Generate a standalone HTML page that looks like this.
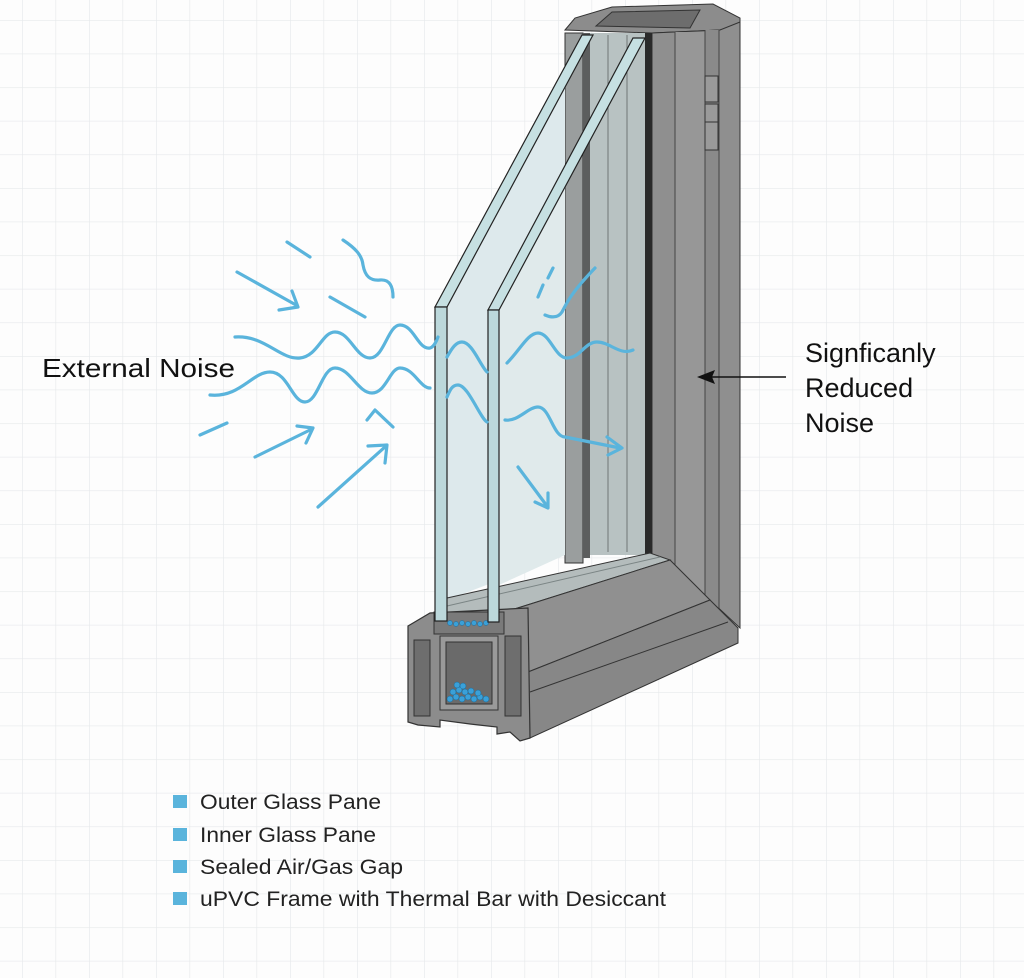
<!DOCTYPE html>
<html><head><meta charset="utf-8"><style>
html,body{margin:0;padding:0;background:#fff}
svg{display:block}
text{font-family:"Liberation Sans",Arial,sans-serif}
</style></head><body>
<svg width="1024" height="978" viewBox="0 0 1024 978" xmlns="http://www.w3.org/2000/svg">
<defs>
<pattern id="g" x="22" y="20" width="33.5" height="33.6" patternUnits="userSpaceOnUse">
<path d="M0 0H33.5M0 0V33.6" stroke="#e6e9eb" stroke-width="1.3" fill="none"/>
</pattern>
</defs>
<rect width="1024" height="978" fill="#fdfdfd"/>
<rect width="1024" height="978" fill="url(#g)"/>

<!-- frame top cap -->
<polygon points="565,30 575,18 612,7 713,4 740,18 740,24 720,30 652,33" fill="#8c8c8c" stroke="#333" stroke-width="1"/>
<polygon points="596,26 612,12 700,10 690,28" fill="#6d6d6d" stroke="#333" stroke-width="1"/>
<!-- frame vertical faces -->
<polygon points="652,33 720,30 740,22 740,628 710,600 652,557" fill="#8f8f8f" stroke="#333" stroke-width="1"/>
<rect x="675" y="32" width="30" height="580" fill="#979797"/>
<rect x="705" y="30" width="14" height="590" fill="#8a8a8a"/>
<line x1="675" y1="32" x2="675" y2="575" stroke="#444" stroke-width="1"/>
<line x1="705" y1="30" x2="705" y2="598" stroke="#444" stroke-width="1"/>
<line x1="719" y1="30" x2="719" y2="612" stroke="#444" stroke-width="1"/>
<rect x="705" y="76" width="13" height="26" fill="#9a9a9a" stroke="#333"/>
<rect x="705" y="104" width="13" height="18" fill="#9a9a9a" stroke="#333"/>
<rect x="705" y="122" width="13" height="28" fill="#9a9a9a" stroke="#333"/>
<!-- glazing strips -->
<rect x="565" y="33" width="18" height="530" fill="#9a9e9e" stroke="#333" stroke-width="1"/>
<rect x="583" y="33" width="7" height="525" fill="#5c5e5e"/>
<rect x="590" y="33" width="56" height="522" fill="#b8c2c2"/>
<line x1="608" y1="35" x2="608" y2="552" stroke="#6f7777" stroke-width="1"/>
<line x1="627" y1="35" x2="627" y2="552" stroke="#6f7777" stroke-width="1"/>
<rect x="645" y="33" width="7" height="526" fill="#2a2a2a"/>

<!-- glass surface -->
<polygon points="447,307 565,87 565,555 447,600" fill="#dde9ec"/>
<polygon points="499,310 565,187 565,555 499,585" fill="#e0eaeb"/>

<!-- bottom bead -->
<polygon points="447,598 650,553 670,560 505,612 447,614" fill="#b4bcbc" stroke="#333" stroke-width="1"/>
<line x1="447" y1="606" x2="660" y2="557" stroke="#7b8585" stroke-width="1"/>
<!-- sill faces -->
<polygon points="505,612 670,560 710,600 528,672" fill="#909090" stroke="#333" stroke-width="1"/>
<polygon points="528,672 710,600 738,628 738,643 530,738" fill="#878787" stroke="#333" stroke-width="1"/>
<line x1="530" y1="692" x2="728" y2="622" stroke="#333" stroke-width="1"/>

<!-- cross-section -->
<polygon points="408,626 430,613 528,608 530,738 520,741 510,732 497,734 497,727 470,724 440,720 440,727 418,725 408,722" fill="#8c8c8c" stroke="#333" stroke-width="1.2"/>
<rect x="414" y="640" width="16" height="76" fill="#6e6e6e" stroke="#333"/>
<rect x="434" y="612" width="70" height="22" fill="#7a7a7a" stroke="#333"/>
<rect x="440" y="636" width="58" height="74" fill="#9a9a9a" stroke="#333"/>
<rect x="446" y="642" width="46" height="62" fill="#6a6a6a" stroke="#333"/>
<rect x="505" y="636" width="16" height="80" fill="#6e6e6e" stroke="#333"/>
<g fill="#3aa0d8" stroke="#1b6a9a" stroke-width="0.5">
<circle cx="450" cy="699" r="3"/><circle cx="456" cy="697" r="3"/><circle cx="462" cy="699" r="3"/><circle cx="468" cy="697" r="3"/><circle cx="474" cy="699" r="3"/><circle cx="480" cy="697" r="3"/><circle cx="486" cy="699" r="3"/><circle cx="453" cy="692" r="3"/><circle cx="459" cy="690" r="3"/><circle cx="465" cy="692" r="3"/><circle cx="471" cy="691" r="3"/><circle cx="478" cy="693" r="3"/><circle cx="457" cy="685" r="3"/><circle cx="463" cy="686" r="3"/>
<circle cx="450" cy="623" r="2.5"/><circle cx="456" cy="624" r="2.5"/><circle cx="462" cy="623" r="2.5"/><circle cx="468" cy="624" r="2.5"/><circle cx="474" cy="623" r="2.5"/><circle cx="480" cy="624" r="2.5"/><circle cx="486" cy="623" r="2.5"/>
</g>

<!-- inner pane -->
<polygon points="488,310 633,38 645,38 499,310" fill="#c6e0e2" stroke="#222" stroke-width="1.2"/>
<rect x="488" y="310" width="11" height="312" fill="#bcd8db" stroke="#222" stroke-width="1.2"/>
<!-- outer pane -->
<polygon points="435,307 582,35 593,35 447,307" fill="#c6e0e2" stroke="#222" stroke-width="1.2"/>
<rect x="435" y="307" width="12" height="314" fill="#bcd8db" stroke="#222" stroke-width="1.2"/>

<!-- noise waves -->
<g fill="none" stroke="#5ab4dc" stroke-width="3.2" stroke-linecap="round" stroke-linejoin="round">
<path d="M235,337 C265,335 280,360 300,358 C318,356 322,332 335,332 C350,332 356,358 370,358 C384,358 388,325 400,325 C414,325 418,350 430,348 C434,347 437,340 438,337"/>
<path d="M210,395 C240,398 252,372 270,372 C288,372 292,402 305,402 C318,402 322,368 335,368 C350,368 358,393 372,393 C386,393 390,368 400,368 C414,368 420,388 430,388"/>
<path d="M447,357 C452,348 456,342 462,342 C472,342 480,365 487,372"/>
<path d="M447,397 C450,390 452,385 458,385 C468,385 480,418 487,422"/>
<path d="M507,363 C520,350 528,333 538,333 C550,333 555,358 567,358 C580,358 585,342 597,342 C610,342 620,356 633,350"/>
<path d="M505,420 C518,422 528,407 538,407 C550,407 553,437 565,437 L620,448"/>
<path d="M607,437 L622,448 L608,455"/>
<path d="M518,467 L547,506"/>
<path d="M535,502 L548,508 L548,493"/>
<path d="M553,268 L548,278 M543,285 L538,297"/>
<path d="M545,315 C552,318 558,318 562,312 C567,302 572,292 595,268"/>
<path d="M237,272 L296,305"/>
<path d="M279,310 L298,307 L292,291"/>
<path d="M287,242 L310,257"/>
<path d="M343,240 C355,248 362,255 363,265 C365,276 370,281 380,280 C390,279 393,287 393,297"/>
<path d="M330,297 L365,317"/>
<path d="M200,435 L227,423"/>
<path d="M255,457 L312,429"/>
<path d="M297,426 L313,428 L306,443"/>
<path d="M367,420 L375,410 L393,427"/>
<path d="M318,507 L386,446"/>
<path d="M368,446 L387,445 L385,463"/>
</g>

<!-- labels -->
<text x="42" y="377" font-size="26" fill="#111" textLength="193" lengthAdjust="spacingAndGlyphs">External Noise</text>
<text x="805" y="362" font-size="27" fill="#111">Signficanly</text>
<text x="805" y="397" font-size="27" fill="#111">Reduced</text>
<text x="805" y="432" font-size="27" fill="#111">Noise</text>
<line x1="786" y1="377" x2="708" y2="377" stroke="#111" stroke-width="1.5"/>
<polygon points="697,377 715,370 712,377 715,384" fill="#111"/>

<!-- legend -->
<g fill="#5ab4dc">
<rect x="173" y="795" width="14" height="13"/>
<rect x="173" y="828" width="14" height="13"/>
<rect x="173" y="860" width="14" height="13"/>
<rect x="173" y="892" width="14" height="13"/>
</g>
<g font-size="21" fill="#222">
<text x="200" y="809" textLength="181" lengthAdjust="spacingAndGlyphs">Outer Glass Pane</text>
<text x="200" y="842" textLength="176" lengthAdjust="spacingAndGlyphs">Inner Glass Pane</text>
<text x="200" y="874" textLength="203" lengthAdjust="spacingAndGlyphs">Sealed Air/Gas Gap</text>
<text x="200" y="906" textLength="466" lengthAdjust="spacingAndGlyphs">uPVC Frame with Thermal Bar with Desiccant</text>
</g>
</svg>
</body></html>
